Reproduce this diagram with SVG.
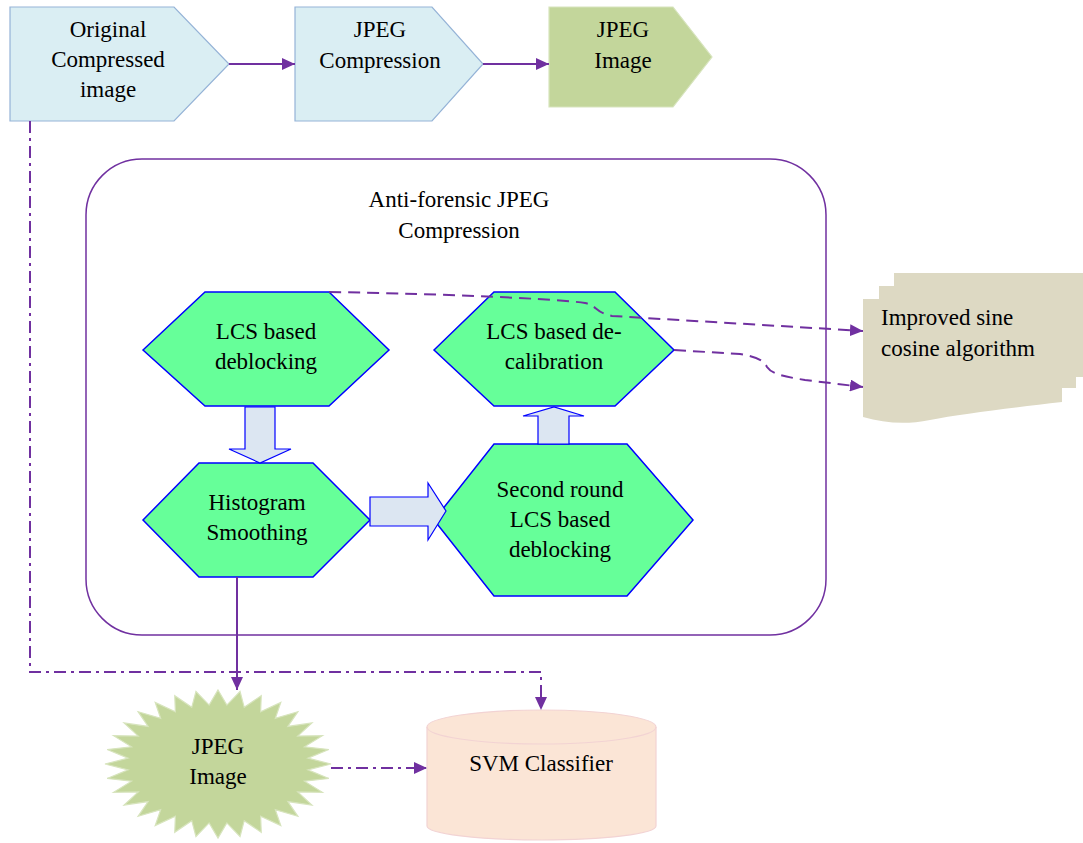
<svg xmlns="http://www.w3.org/2000/svg" width="1083" height="843" viewBox="0 0 1083 843">
<style>
text{font-family:'Liberation Serif',Tinos,'Times New Roman',Times,serif;font-size:23px;fill:#000;text-anchor:middle}
.blue{fill:#DAEEF3;stroke:#95B3D7;stroke-width:1.2}
.green{fill:#C3D69B;stroke:#D7E4BD;stroke-width:1.2}
.hex{fill:#66FF99;stroke:#0000FF;stroke-width:1.5}
.barrow{fill:#DCE6F2;stroke:#0000FF;stroke-width:1.2}
.con{fill:none;stroke:#7030A0;stroke-width:2}
.dd{stroke-dasharray:12 5 3 5}
.da{stroke-dasharray:12 7}
.doc{fill:#DDD9C3;stroke:none}
</style>
<defs>
<marker id="ah" markerUnits="userSpaceOnUse" markerWidth="14" markerHeight="12" refX="13" refY="6" orient="auto">
<path d="M0,0 L13,6 L0,12 Z" fill="#7030A0"/>
</marker>
</defs>

<g id="container">
<rect x="86" y="159" width="740" height="476" rx="56" ry="56" fill="none" stroke="#7030A0" stroke-width="1.5"/>
<text x="459" y="207" font-family="Liberation Serif">Anti-forensic JPEG</text>
<text x="459" y="238" font-family="Liberation Serif">Compression</text>
</g>

<g id="original">
<path class="blue" d="M10,7 L174,7 L229,64 L174,121 L10,121 Z"/>
<text x="108" y="37">Original</text>
<text x="108" y="67">Compressed</text>
<text x="108" y="97">image</text>
</g>

<g id="jpegcomp">
<path class="blue" d="M295,7 L432,7 L483,64 L432,121 L295,121 Z"/>
<text x="380" y="37">JPEG</text>
<text x="380" y="68">Compression</text>
</g>

<g id="jpegimg1">
<path class="green" d="M549,7 L673,7 L712,57 L673,107 L549,107 Z"/>
<text x="623" y="37">JPEG</text>
<text x="623" y="68">Image</text>
</g>

<g id="lcs1">
<path class="hex" d="M143,350 L205,292 L329,292 L389,350 L329,406 L205,406 Z"/>
<text x="266" y="339">LCS based</text>
<text x="266" y="369">deblocking</text>
</g>

<g id="hist">
<path class="hex" d="M143,520 L199,463 L313,463 L370,520 L313,577 L199,577 Z"/>
<text x="257" y="510">Histogram</text>
<text x="257" y="540">Smoothing</text>
</g>

<g id="decal">
<path class="hex" d="M434,350 L494,292 L615,292 L674,350 L615,406 L494,406 Z"/>
<text x="554" y="339">LCS based de-</text>
<text x="554" y="369">calibration</text>
</g>

<g id="second">
<path class="hex" d="M434,520 L494,444 L627,444 L693,520 L627,596 L494,596 Z"/>
<text x="560" y="497">Second round</text>
<text x="560" y="527">LCS based</text>
<text x="560" y="557">deblocking</text>
</g>

<g id="blockarrows">
<path class="barrow" d="M245,407 L275,407 L275,449 L291,449 L260,463 L229,449 L245,449 Z"/>
<path class="barrow" d="M370,497 L428,497 L428,483 L446,511 L428,540 L428,526 L370,526 Z"/>
<path class="barrow" d="M538,444 L569,444 L569,416 L584,416 L554,407 L523,416 L538,416 Z"/>
</g>

<g id="sca">
<path class="doc" d="M894,273 L1090,273 L1090,377 L894,377 Z"/>
<path class="doc" d="M879,286 L1076,286 L1076,388 L879,388 Z"/>
<path class="doc" d="M863,299 L1062,299 L1062,402 C1010,408 960,414 930,420 C905,425 885,423 863,417 Z"/>
<text x="881" y="325" style="text-anchor:start">Improved sine</text>
<text x="881" y="356" style="text-anchor:start">cosine algorithm</text>
</g>

<g id="jpegstar">
<polygon transform="translate(218,764) scale(1.13,0.74)" fill="#C3D69B" stroke="#D7E4BD" stroke-width="1.2" vector-effect="non-scaling-stroke" points="0,-100 7.84,-79.61 19.51,-98.08 23.22,-76.56 38.27,-92.39 37.71,-70.55 55.56,-83.15 50.75,-61.84 70.71,-70.71 61.84,-50.75 83.15,-55.56 70.55,-37.71 92.39,-38.27 76.56,-23.22 98.08,-19.51 79.61,-7.84 100,0 79.61,7.84 98.08,19.51 76.56,23.22 92.39,38.27 70.55,37.71 83.15,55.56 61.84,50.75 70.71,70.71 50.75,61.84 55.56,83.15 37.71,70.55 38.27,92.39 23.22,76.56 19.51,98.08 7.84,79.61 0,100 -7.84,79.61 -19.51,98.08 -23.22,76.56 -38.27,92.39 -37.71,70.55 -55.56,83.15 -50.75,61.84 -70.71,70.71 -61.84,50.75 -83.15,55.56 -70.55,37.71 -92.39,38.27 -76.56,23.22 -98.08,19.51 -79.61,7.84 -100,0 -79.61,-7.84 -98.08,-19.51 -76.56,-23.22 -92.39,-38.27 -70.55,-37.71 -83.15,-55.56 -61.84,-50.75 -70.71,-70.71 -50.75,-61.84 -55.56,-83.15 -37.71,-70.55 -38.27,-92.39 -23.22,-76.56 -19.51,-98.08 -7.84,-79.61"/>
<text x="218" y="754">JPEG</text>
<text x="218" y="784">Image</text>
</g>

<g id="svm">
<path d="M427,727 A114.5,17 0 0,1 656,727 L656,826 A114.5,14 0 0,1 427,826 Z" fill="#FBE5D6" stroke="#F2D3D3" stroke-width="1.2"/>
<path d="M427,727 A114.5,17 0 0,0 656,727" fill="none" stroke="#F2D3D3" stroke-width="1.2"/>
<text x="541" y="771">SVM Classifier</text>
</g>

<g id="connectors">
<path class="con" d="M229,64 L295,64" marker-end="url(#ah)"/>
<path class="con" d="M483,64 L549,64" marker-end="url(#ah)"/>
<path class="con" d="M237,577 L237,690" marker-end="url(#ah)"/>
<path class="con dd" d="M30,121 L30,672 L541,672 L541,710" marker-end="url(#ah)"/>
<path class="con dd" d="M331,768 L427,768" marker-end="url(#ah)"/>
<path class="con da" d="M329,292 C450,294 560,299 585,303 C598,306 594,312 612,316 L863,331" marker-end="url(#ah)"/>
<path class="con da" d="M674,350 L740,354 C758,357 764,361 767,367 C771,373 780,376 805,380 L863,387" marker-end="url(#ah)"/>
</g>
</svg>
